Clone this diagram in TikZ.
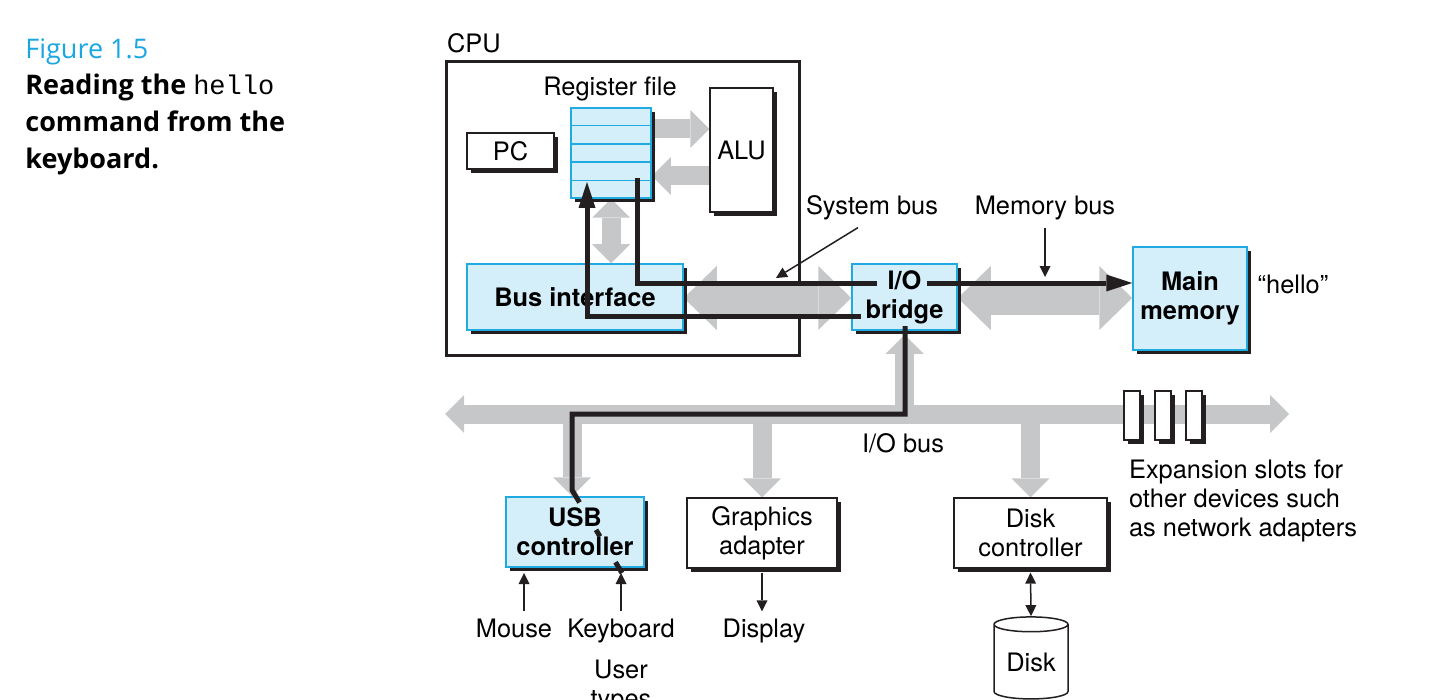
\documentclass[tikz,border=0pt]{standalone}
\usepackage{fontspec}
\setmainfont{TeX Gyre Heros}
\setmonofont{Liberation Mono}
\newfontfamily\capfont{Open Sans}
\usepackage{tikz}
\usetikzlibrary{arrows.meta,backgrounds,shadows,shapes.geometric,calc}
\definecolor{cyanfill}{HTML}{D4EEFA}
\definecolor{cyanline}{HTML}{1FAAE2}
\definecolor{busgray}{HTML}{C6C7C9}
\definecolor{figblue}{HTML}{1AA6E0}
\definecolor{ink}{HTML}{231F20}

\begin{document}
\begin{tikzpicture}[x=0.5pt,y=-0.5pt,
		font=\fontsize{12.7}{14.5}\selectfont,
		shad/.style={drop shadow={shadow xshift=2pt,shadow yshift=-2pt,fill=ink,opacity=1}},
		cbox/.style={draw=cyanline,line width=0.75pt,fill=cyanfill,shad,align=center,inner sep=0pt,font=\fontsize{12.7}{14.5}\selectfont\bfseries},
		wbox/.style={draw=ink,line width=0.6pt,fill=white,shad,align=center,inner sep=0pt},
		gtip/.tip={Triangle[width=19pt,length=9.5pt,line width=0pt]},
		Gtip/.tip={Triangle[width=32pt,length=16.5pt,line width=0pt]},
		gone/.style={draw=busgray,line width=9.5pt,-gtip},
		gtwo/.style={draw=busgray,line width=9.5pt,gtip-gtip},
		Gtwo/.style={draw=busgray,line width=17pt,Gtip-Gtip},
		dpath/.style={draw=ink,line width=2.5pt},
		dtip/.tip={Triangle[width=8.5pt,length=13pt,line width=0pt]},
		ttip/.tip={Triangle[width=5.5pt,length=5.5pt,line width=0pt]},
		tarrow/.style={draw=ink,line width=0.75pt,-ttip}]
		\useasboundingbox (0,0) rectangle (1455,700);
		\newcommand{\xslot}[2]{\node[wbox,minimum width=8pt,minimum height=24.5pt] (s#1) at (#2,415.5) {};}
		
		\node[anchor=base west,inner sep=0pt,text=figblue,font=\capfont\fontsize{13.5}{18.5}\selectfont] (fig) at (25,59) {Figure 1.5};
		\node[anchor=north west,inner sep=0pt,align=left,font=\capfont\bfseries\fontsize{13.5}{18.5}\selectfont] (cap) at (25,74) {Reading the {\mdseries\ttfamily hello}\\command from the\\keyboard.};
		
		\node[anchor=base west] (cpulbl) at (440,53) {CPU};
		\node[anchor=base] (reglbl) at (610,96) {Register file};
		\node[cbox,minimum width=40pt,minimum height=45pt] (regs) at (611,153) {};
		\foreach \k in {1,...,4}
			\draw[cyanline,line width=0.75pt] ($(regs.north west)!\k/5!(regs.south west)$) -- ($(regs.north east)!\k/5!(regs.south east)$);
		\node[wbox,minimum width=43.5pt,minimum height=18pt] (pc) at (510.5,151) {PC};
		\node[wbox,minimum width=31.5pt,minimum height=62pt] (alu) at (741.5,150) {ALU};
		\node[cbox,minimum width=108pt,minimum height=33pt] (busif) at (575,297) {Bus interface};
		\node[cbox,minimum width=52.5pt,minimum height=33pt] (bridge) at (904.5,297) {I/O\\bridge};
		\node[cbox,minimum width=57pt,minimum height=51.5pt] (mem) at (1190,298.5) {Main\\memory};
		\node[anchor=base] (hello) at (1293,293) {“hello”};
		\node[anchor=base] (syslbl) at (872,215) {System bus};
		\node[anchor=base] (memlbl) at (1045,215) {Memory bus};
		\node[anchor=base] (iolbl) at (903,452) {I/O bus};
		
		\node[cbox,minimum width=69pt,minimum height=35pt] (usb) at (575,532) {USB\\controller};
		\node[wbox,minimum width=75pt,minimum height=35pt] (gfx) at (762,533) {Graphics\\adapter};
		\node[wbox,minimum width=76.5pt,minimum height=35pt] (dctl) at (1030.5,533) {Disk\\controller};
		\node[draw=ink,line width=0.75pt,fill=white,cylinder,shape border rotate=90,aspect=0.3,minimum width=37pt,minimum height=41pt,inner sep=0pt] (disk) at (1031,662) {\raisebox{-3pt}{Disk}};
		\xslot{1}{1132}
		\xslot{2}{1163}
		\xslot{3}{1194}
		\node[anchor=base west,align=left,font=\fontsize{12.7}{14.3}\selectfont] (exptxt) at (1122,536) {Expansion slots for\\other devices such\\as network adapters};
		
		\node[anchor=base] (mouse) at (514,637) {Mouse};
		\node[anchor=base] (kbd) at (621,637) {Keyboard};
		\node[anchor=base] (disp) at (764,637) {Display};
		\node[align=center] (user) at (621,687) {User\\types};
		
		\coordinate (iol) at (445,414);
		\coordinate (ior) at (1289,414);
		\coordinate (rout) at (637,178);
		\coordinate (rin) at (587,182);
		\coordinate (ioL) at (877,283);
		\coordinate (ioR) at (927,283);
		\coordinate (brL) at (861,316);
		\coordinate (brB) at (905,326);
		\coordinate (ubend) at (572,490);
		\coordinate (kin) at (622,573);
		\coordinate (sysp) at (776,278);
		
		\begin{scope}[on background layer]
			\node[draw=ink,line width=1.5pt,minimum width=176.5pt,minimum height=146.5pt] (cpu) at (622.5,208.5) {};
			\draw[gone] (regs.east |- 0,129) -- (alu.west |- 0,129);
			\draw[gone] (alu.west |- 0,176) -- (regs.east |- 0,176);
			\draw[gtwo] (regs.south) -- (regs.south |- busif.north);
			\draw[Gtwo] (busif.east |- 0,298) -- (bridge.west |- 0,298);
			\draw[Gtwo] (bridge.east |- 0,298) -- (mem.west |- 0,298);
			\draw[gtwo] (iol) -- (ior);
			\draw[gone] (bridge.south |- iol) -- ($(bridge.south)+(0,-2pt)$);
			\draw[gone] (ubend |- iol) -- (ubend |- usb.north);
			\draw[gone] (gfx.north |- iol) -- (gfx.north);
			\draw[gone] (dctl.north |- iol) -- (dctl.north);
		\end{scope}
		
		\draw[dpath] (rout) |- (ioL);
		\draw[dpath,-dtip] (ioR) -- (ioR -| mem.west);
		\draw[dpath,-dtip] (brL) -| (rin);
		\draw[dpath] (brB) |- (ubend |- iol) -- (ubend) -- ($(ubend)!0.15!(kin)$);
		\draw[dpath] ($(ubend)!0.48!(kin)$) -- ($(ubend)!0.56!(kin)$);
		\draw[dpath] ($(ubend)!0.87!(kin)$) -- (kin);
		
		\draw[tarrow] ([xshift=-7pt]syslbl.south) -- (sysp);
		\draw[tarrow] (memlbl.south) -- (memlbl.south |- 0,277);
		\draw[tarrow] ([xshift=5pt]mouse.north) -- ([xshift=5pt]mouse.north |- kin);
		\draw[tarrow] (kbd.north) -- (kbd.north |- kin);
		\draw[tarrow] ($(gfx.south)+(0,-2pt)$) -- (gfx.south |- disp.north);
		\draw[tarrow,ttip-ttip] ($(dctl.south)+(0,-2pt)$) -- (disk.north);
	\end{tikzpicture}
\end{document}
